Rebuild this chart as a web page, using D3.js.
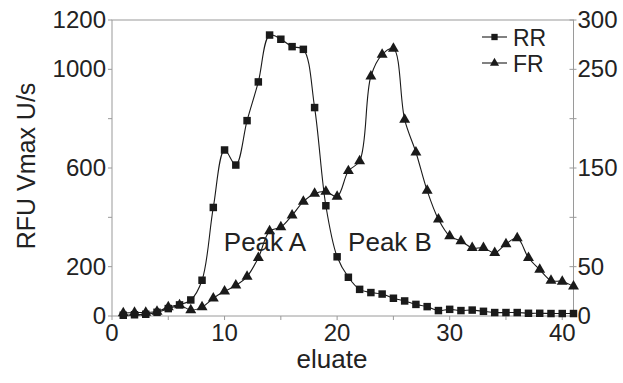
<!DOCTYPE html>
<html>
<head>
<meta charset="utf-8">
<script src="https://cdn.jsdelivr.net/npm/d3@7"></script>
<style>
  body { margin: 0; background: #fff; }
  text { font-family: "Liberation Sans", Arial, sans-serif; fill: #222; }
</style>
</head>
<body>
<div id="chart"></div>
<script>
const width = 623;
const height = 383;

// eluate fraction numbers
const eluate = d3.range(1, 42);

// RR activity (left axis, RFU Vmax U/s)
const rr = [3, 5, 7, 15, 30, 45, 65, 145, 440, 673, 612, 792, 949, 1139, 1122,
  1092, 1081, 845, 447, 240, 157, 108, 95, 89, 72, 61, 47, 38, 22, 27,
  22, 24, 19, 14, 14, 14, 11, 11, 10, 10, 10];

// FR activity (right axis)
const fr = [3, 3.5, 3.5, 4.5, 9, 11, 6, 9, 18, 25, 31, 40, 59, 86, 90,
  102, 116, 124, 126, 121, 147, 157, 243, 265, 271, 199, 166, 127, 98, 81,
  76, 69, 69, 64, 73, 79, 59, 47, 36, 35, 30];

const xTicks = [0, 5, 10, 15, 20, 25, 30, 35, 40];
const xTickLabels = [0, 10, 20, 30, 40];
const leftTicks = [0, 200, 400, 600, 800, 1000, 1200];
const leftTickLabels = [0, 200, 600, 1000, 1200];
const rightTicks = [0, 50, 100, 150, 200, 250, 300];
const rightTickLabels = [0, 50, 150, 250, 300];

const peakLabels = [{name: 'Peak A', x: 265}, {name: 'Peak B', x: 390}];

const margin = {left: 112, right: 50, top: 20, bottom: 67};
const axisColor = '#9a9a9a';
const markColor = '#1a1a1a';

const x = d3.scaleLinear().domain([0, 41]).range([margin.left, width - margin.right + 0.5]);
const yLeft = d3.scaleLinear().domain([0, 1200]).range([height - margin.bottom, margin.top]);
const yRight = d3.scaleLinear().domain([0, 300]).range([height - margin.bottom, margin.top]);

const svg = d3.select('#chart').append('svg')
  .attr('width', width)
  .attr('height', height);

// frame
svg.append('rect')
  .attr('x', x(0)).attr('y', yLeft(1200))
  .attr('width', x(41) - x(0)).attr('height', yLeft(0) - yLeft(1200))
  .attr('fill', 'none').attr('stroke', axisColor).attr('stroke-width', 1);

// ticks
svg.selectAll('.xtick').data(xTicks).enter().append('line')
  .attr('x1', d => x(d)).attr('x2', d => x(d))
  .attr('y1', yLeft(0)).attr('y2', yLeft(0) + 4)
  .attr('stroke', axisColor);

svg.selectAll('.ltick').data(leftTicks).enter().append('line')
  .attr('x1', x(0) - 4).attr('x2', x(0))
  .attr('y1', d => yLeft(d)).attr('y2', d => yLeft(d))
  .attr('stroke', axisColor);

svg.selectAll('.rtick').data(rightTicks).enter().append('line')
  .attr('x1', x(41) - 4).attr('x2', x(41) + 3)
  .attr('y1', d => yRight(d)).attr('y2', d => yRight(d))
  .attr('stroke', axisColor);

// tick labels
svg.selectAll('.xlab').data(xTickLabels).enter().append('text')
  .attr('x', d => x(d)).attr('y', 341)
  .attr('text-anchor', 'middle').attr('font-size', 24)
  .text(d => d);

svg.selectAll('.llab').data(leftTickLabels).enter().append('text')
  .attr('x', x(0) - 6).attr('y', d => yLeft(d) + 8)
  .attr('text-anchor', 'end').attr('font-size', 24)
  .text(d => d);

svg.selectAll('.rlab').data(rightTickLabels).enter().append('text')
  .attr('x', x(41) + 4).attr('y', d => yRight(d) + 8)
  .attr('text-anchor', 'start').attr('font-size', 24)
  .text(d => d);

// axis titles
svg.append('text')
  .attr('x', 332).attr('y', 368)
  .attr('text-anchor', 'middle').attr('font-size', 26)
  .text('eluate');

svg.append('text')
  .attr('transform', 'translate(35,166) rotate(-90)')
  .attr('text-anchor', 'middle').attr('font-size', 25)
  .text('RFU Vmax U/s');

// lines (smoothed, like the spreadsheet original)
const rrLine = d3.line()
  .x((d, i) => x(eluate[i]))
  .y(d => yLeft(d))
  .curve(d3.curveCatmullRom.alpha(0.5));

const frLine = d3.line()
  .x((d, i) => x(eluate[i]))
  .y(d => yRight(d))
  .curve(d3.curveCatmullRom.alpha(0.5));

svg.append('path').attr('d', rrLine(rr))
  .attr('fill', 'none').attr('stroke', markColor).attr('stroke-width', 1.1);
svg.append('path').attr('d', frLine(fr))
  .attr('fill', 'none').attr('stroke', markColor).attr('stroke-width', 1.1);

const square = d3.symbol().type(d3.symbolSquare).size(56);
const triangle = d3.symbol().type(d3.symbolTriangle).size(52);

svg.selectAll('.rr').data(rr).enter().append('path')
  .attr('d', square)
  .attr('transform', (d, i) => `translate(${x(eluate[i])},${yLeft(d)})`)
  .attr('fill', markColor);

svg.selectAll('.fr').data(fr).enter().append('path')
  .attr('d', triangle)
  .attr('transform', (d, i) => `translate(${x(eluate[i])},${yRight(d)})`)
  .attr('fill', markColor);

// peak labels
svg.selectAll('.peak').data(peakLabels).enter().append('text')
  .attr('x', d => d.x).attr('y', 251)
  .attr('text-anchor', 'middle').attr('font-size', 26)
  .text(d => d.name);

// legend
const legend = [
  {name: 'RR', shape: d3.symbol().type(d3.symbolSquare).size(40), y: 37},
  {name: 'FR', shape: d3.symbol().type(d3.symbolTriangle).size(36), y: 63}
];
const lg = svg.selectAll('.lg').data(legend).enter().append('g')
  .attr('transform', d => `translate(482,${d.y})`);
lg.append('line').attr('x1', 0).attr('x2', 25)
  .attr('stroke', markColor).attr('stroke-width', 1.1);
lg.append('path').attr('d', d => d.shape())
  .attr('transform', 'translate(12.5,0)').attr('fill', markColor);
lg.append('text').attr('x', 31).attr('y', 9)
  .attr('font-size', 23).text(d => d.name);
</script>
</body>
</html>
